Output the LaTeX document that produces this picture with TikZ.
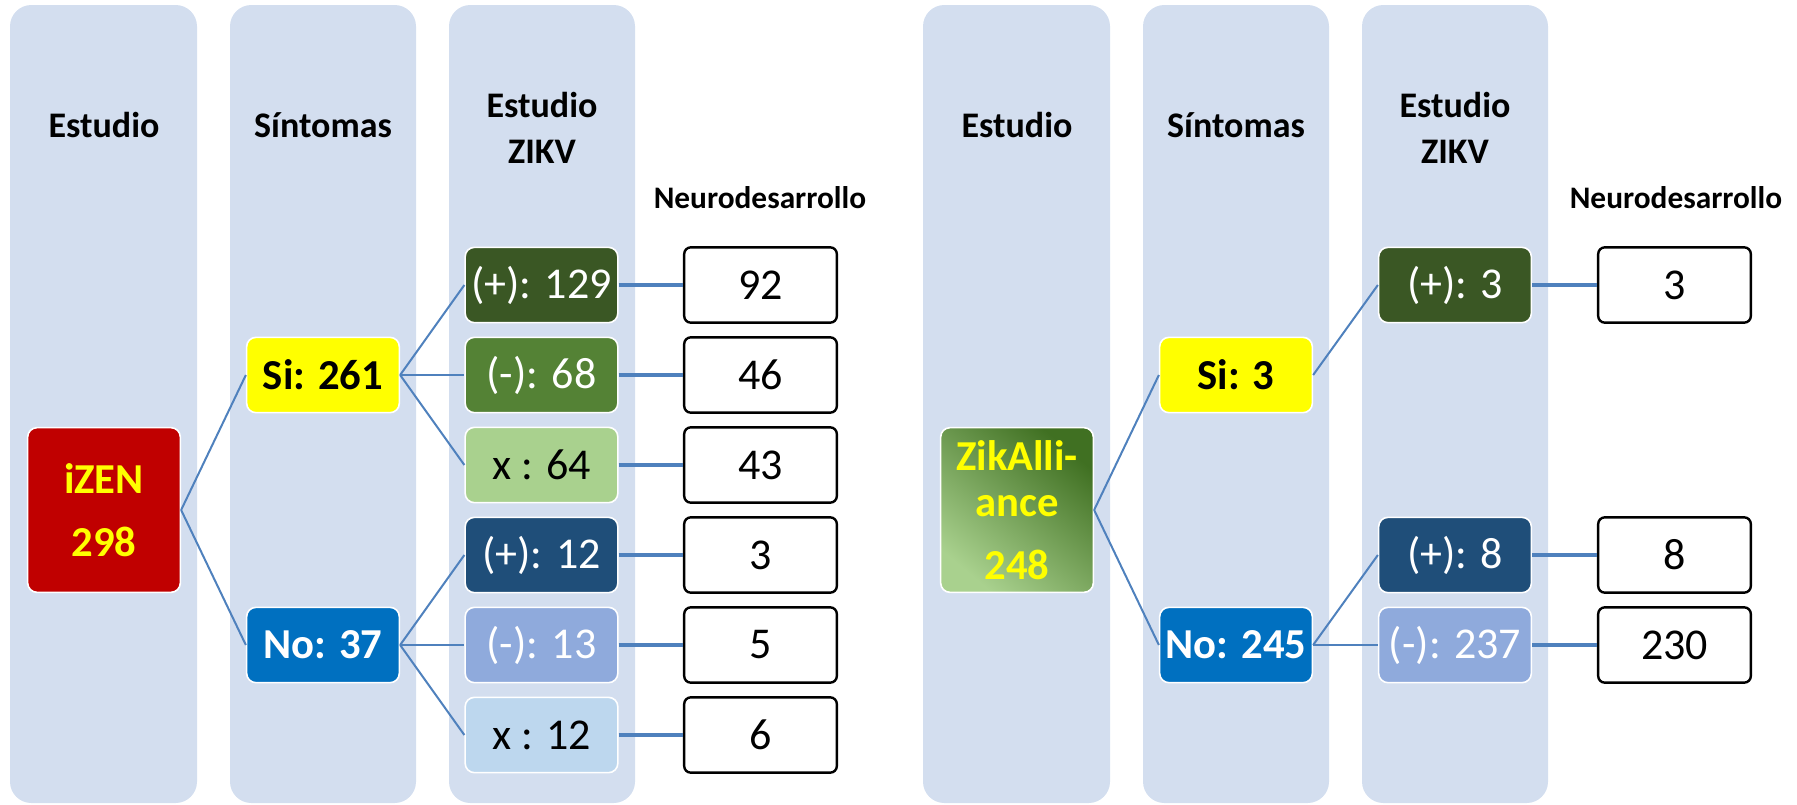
\documentclass[tikz,border=0pt]{standalone}
\usepackage{fontspec}
\setmainfont{Carlito}
\usepackage{tikz}

\definecolor{laneblue}{RGB}{211,222,239}
\definecolor{linkblue}{RGB}{79,129,189}
\definecolor{izenred}{RGB}{192,0,0}
\definecolor{siyellow}{RGB}{255,255,0}
\definecolor{noblue}{RGB}{0,112,192}
\definecolor{posgreen}{RGB}{58,87,36}
\definecolor{neggreen}{RGB}{84,130,53}
\definecolor{xgreen}{RGB}{169,209,142}
\definecolor{posblue}{RGB}{31,78,121}
\definecolor{negblue}{RGB}{143,170,220}
\definecolor{xblue}{RGB}{189,215,238}
\definecolor{zikdark}{RGB}{64,112,34}
\definecolor{ziklight}{RGB}{169,209,142}

\begin{document}
\begin{tikzpicture}[x=0.75pt,y=0.75pt,yscale=-1,xscale=1,
  lane/.style={fill=laneblue,rounded corners=16pt},
  head/.style={font=\bfseries\fontsize{27}{34}\selectfont,align=center,inner sep=0pt},
  neurohead/.style={font=\bfseries\fontsize{23.5}{28}\selectfont,inner sep=0pt},
  box/.style={draw=white,line width=1.2pt,rounded corners=7pt,minimum width=114.5pt,minimum height=56.5pt,inner sep=0pt,align=center,font=\fontsize{33}{40}\selectfont},
  boldbox/.style={box,font=\bfseries\fontsize{32}{40}\selectfont},
  bigbox/.style={box,minimum height=123.5pt,font=\bfseries\fontsize{32}{47}\selectfont,text=siyellow},
  valbox/.style={box,draw=black,fill=white,line width=1.8pt,rounded corners=5pt},
  link/.style={draw=linkblue,line width=1.5pt},
  hlink/.style={draw=linkblue,line width=2.3pt}]
\useasboundingbox (0,0) rectangle (1797,804);

%Lanes: iZEN
\fill [lane] (10,5) rectangle (197,803);
\fill [lane] (230,5) rectangle (416,803);
\fill [lane] (449,5) rectangle (635,803);
%Lanes: ZikAlliance
\fill [lane] (923,5) rectangle (1110,803);
\fill [lane] (1143,5) rectangle (1329,803);
\fill [lane] (1362,5) rectangle (1548,803);

% Text Node
\node [head] (hEstA) at (104,125) {Estudio};
\node [head] (hSinA) at (323,125) {Síntomas};
\node [head] (hZikA) at (542,128) {Estudio\\ZIKV};
\node [neurohead] (hNeuA) at (760,198) {Neurodesarrollo};
\node [head] (hEstB) at (1017,125) {Estudio};
\node [head] (hSinB) at (1236,125) {Síntomas};
\node [head] (hZikB) at (1455,128) {Estudio\\ZIKV};
\node [neurohead] (hNeuB) at (1676,198) {Neurodesarrollo};

%iZEN
\node [bigbox,fill=izenred] (izen) at (104,510) {iZEN\\298};
\node [boldbox,fill=siyellow] (siA) at (323,375) {Si: 261};
\node [boldbox,fill=noblue,text=white] (noA) at (323,645) {No: 37};
\node [box,fill=posgreen,text=white] (zA1) at (541.5,285) {(+): 129};
\node [box,fill=neggreen,text=white] (zA2) at (541.5,375) {(-): 68};
\node [box,fill=xgreen] (zA3) at (541.5,465) {x : 64};
\node [box,fill=posblue,text=white] (zA4) at (541.5,555) {(+): 12};
\node [box,fill=negblue,text=white] (zA5) at (541.5,645) {(-): 13};
\node [box,fill=xblue] (zA6) at (541.5,735) {x : 12};
\node [valbox] (nA1) at (760.5,285) {92};
\node [valbox] (nA2) at (760.5,375) {46};
\node [valbox] (nA3) at (760.5,465) {43};
\node [valbox] (nA4) at (760.5,555) {3};
\node [valbox] (nA5) at (760.5,645) {5};
\node [valbox] (nA6) at (760.5,735) {6};

%ZikAlliance
\node [bigbox,top color=zikdark,bottom color=ziklight,shading angle=-40] (zik) at (1017,510) {ZikAlli-\\[-12pt]ance\\248};
\node [boldbox,fill=siyellow] (siB) at (1236,375) {Si: 3};
\node [boldbox,fill=noblue,text=white] (noB) at (1236,645) {No: 245};
\node [box,fill=posgreen,text=white] (zB1) at (1455,285) {(+): 3};
\node [box,fill=posblue,text=white] (zB2) at (1455,555) {(+): 8};
\node [box,fill=negblue,text=white] (zB3) at (1455,645) {(-): 237};
\node [valbox] (nB1) at (1674.5,285) {3};
\node [valbox] (nB2) at (1674.5,555) {8};
\node [valbox] (nB3) at (1674.5,645) {230};

%Straight Lines
\draw [link] (izen.east) -- (siA.west);
\draw [link] (izen.east) -- (noA.west);
\draw [link] (siA.east) -- (zA1.west);
\draw [link] (siA.east) -- (zA2.west);
\draw [link] (siA.east) -- (zA3.west);
\draw [link] (noA.east) -- (zA4.west);
\draw [link] (noA.east) -- (zA5.west);
\draw [link] (noA.east) -- (zA6.west);
\draw [hlink] (zA1) -- (nA1);
\draw [hlink] (zA2) -- (nA2);
\draw [hlink] (zA3) -- (nA3);
\draw [hlink] (zA4) -- (nA4);
\draw [hlink] (zA5) -- (nA5);
\draw [hlink] (zA6) -- (nA6);

\draw [link] (zik.east) -- (siB.west);
\draw [link] (zik.east) -- (noB.west);
\draw [link] (siB.east) -- (zB1.west);
\draw [link] (noB.east) -- (zB2.west);
\draw [link] (noB.east) -- (zB3.west);
\draw [hlink] (zB1) -- (nB1);
\draw [hlink] (zB2) -- (nB2);
\draw [hlink] (zB3) -- (nB3);

\end{tikzpicture}
\end{document}
